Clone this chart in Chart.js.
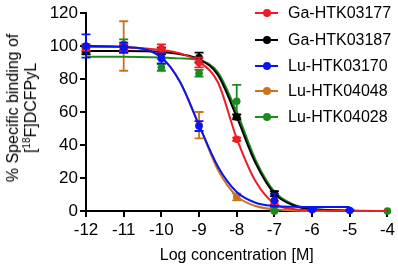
<!DOCTYPE html>
<html><head><meta charset="utf-8">
<script src="https://cdn.jsdelivr.net/npm/chart.js@4.4.1/dist/chart.umd.min.js"></script>
<style>
html,body{margin:0;padding:0;background:#fff;}
#wrap{position:relative;width:398px;height:265px;font-family:"Liberation Sans",Arial,sans-serif;color:#000;overflow:hidden;}
canvas{position:absolute;left:0;top:0;}
#ytitle{position:absolute;left:22px;top:108px;transform:translate(-50%,-50%) rotate(-90deg);text-align:center;font-size:16px;line-height:18px;white-space:nowrap;}
#ytitle sup{font-size:10px;line-height:0;vertical-align:6px;}
#legend{position:absolute;left:255px;top:0;width:143px;height:130px;}
.li{position:absolute;left:0;height:18px;width:143px;font-size:16px;line-height:18px;white-space:nowrap;}
.li .ln{position:absolute;left:0;top:8px;width:23px;height:2px;}
.li .mk{position:absolute;left:7.5px;top:5px;width:8px;height:8px;border-radius:50%;}
.li .tx{position:absolute;left:33px;top:0;}
</style></head>
<body>
<div id="wrap">
<canvas id="c" width="398" height="265"></canvas>
<div id="ytitle">% Specific binding of<br>[<sup>18</sup>F]DCFPyL</div>
<div id="legend"></div>
</div>
<script>
// ---- data ----
const logConc = [-12, -11, -10, -9, -8, -7, -6, -5, -4];
const seriesNames = ['Ga-HTK03177', 'Ga-HTK03187', 'Lu-HTK03170', 'Lu-HTK04048', 'Lu-HTK04028'];
const seriesColors = ['#ee1c24', '#000000', '#0a14f0', '#c8741e', '#1c8a1c'];

// measured means and SD (null = no point)
const redMean   = [99, 99, 98.5, 90, 43.5, 5, null, null, null];
const redErr    = [2, 2, 2.5, 3, 1, 1, 0, 0, 0];
const blackMean = [97, 98, 97, 93, 57, 10.5, null, null, null];
const blackErr  = [2, 2, 2, 3, 1.5, 1.5, 0, 0, 0];
const blueMean  = [100, 99, 92.5, 51.5, null, 6.5, 0.8, 0.3, null];
const blueErr   = [7, 3, 3, 3, 0, 4, 0.5, 0.5, 0];
const orangeMean= [99, 100, 95, 52, 8.5, 0, null, null, null];
const orangeErr = [2, 15, 3, 8, 2, 0.5, 0, 0, 0];
const greenMean = [98, 101, 87, 83.5, 66.5, 0, null, null, 0];
const greenErr  = [2, 3, 2, 2, 10, 0.5, 0, 0, 0];

// fitted curves
const curveX      = [-12, -11, -10, -9.5, -9, -8.5, -8, -7.5, -7, -6.5, -6, -5, -4];
const redCurve    = [99.5, 99.3, 97.6, 95.5, 90.5, 78, 44, 18, 4.5, 1.2, 0.4, 0, 0];
const blackCurve  = [97, 97, 96.4, 95, 92, 82.5, 57, 29, 10.5, 3.5, 1, 0.2, 0];
const blueCurve   = [100, 99.5, 93, 78, 52, 27, 11.5, 5, 3, 2.6, 2.5, 2.5, null];
const orangeCurve = [99.5, 99.3, 93, 78, 52, 25, 9, 3, 1, 0.3, 0, 0, 0];
const greenCurve  = [93.5, 93.5, 93, 92.5, 91.5, 84, 60, 31, 11.7, 4, 1.3, 0.2, 0];

const yTicksMin = 0, yTicksMax = 120, yStep = 20;
const xMin = -12, xMax = -4;

const means = [redMean, blackMean, blueMean, orangeMean, greenMean];
const errs = [redErr, blackErr, blueErr, orangeErr, greenErr];
const curves = [redCurve, blackCurve, blueCurve, orangeCurve, greenCurve];

const FAM = '"Liberation Sans", Arial, sans-serif';

// draw order: first dataset drawn on top
const order = [2, 0, 1, 4, 3];
const datasets = [];
order.forEach(k => {
  const pts = [], e = [];
  logConc.forEach((x, i) => { if (means[k][i] !== null) { pts.push({x, y: means[k][i]}); e.push(errs[k][i]); } });
  datasets.push({
    label: seriesNames[k] + ' pts', data: pts, errors: e,
    borderColor: seriesColors[k], backgroundColor: seriesColors[k],
    pointRadius: 3.8, pointBorderWidth: 0, showLine: false, clip: false
  });
  const cp = [];
  curveX.forEach((x, i) => { if (curves[k][i] !== null) cp.push({x, y: curves[k][i]}); });
  datasets.push({
    label: seriesNames[k], data: cp,
    borderColor: seriesColors[k], backgroundColor: seriesColors[k],
    pointRadius: 0, showLine: true, borderWidth: 2, cubicInterpolationMode: 'monotone', clip: false
  });
});

const errorBars = {
  id: 'errorBars',
  beforeDatasetDraw(chart, args) {
    const ds = chart.data.datasets[args.index];
    if (!ds.errors) return;
    const ctx = chart.ctx, xs = chart.scales.x, ys = chart.scales.y;
    ctx.save();
    ctx.strokeStyle = ds.borderColor; ctx.lineWidth = 1.8;
    ds.data.forEach((p, i) => {
      const e = ds.errors[i];
      if (!e) return;
      const px = xs.getPixelForValue(p.x);
      const t = ys.getPixelForValue(p.y + e), b = ys.getPixelForValue(Math.max(0, p.y - e));
      ctx.beginPath();
      ctx.moveTo(px, t); ctx.lineTo(px, b);
      ctx.moveTo(px - 4.5, t); ctx.lineTo(px + 4.5, t);
      ctx.moveTo(px - 4.5, b); ctx.lineTo(px + 4.5, b);
      ctx.stroke();
    });
    ctx.restore();
  }
};

new Chart(document.getElementById('c'), {
  type: 'scatter',
  data: { datasets },
  plugins: [errorBars],
  options: {
    responsive: false, animation: false, devicePixelRatio: 1,
    layout: { padding: { top: 13, right: 10, left: 0, bottom: 0 } },
    plugins: { legend: { display: false }, tooltip: { enabled: false } },
    scales: {
      x: {
        type: 'linear', min: xMin, max: xMax,
        ticks: { stepSize: 1, color: '#000', font: { size: 17, family: FAM }, padding: 3, maxRotation: 0, autoSkip: false },
        grid: { drawOnChartArea: false, drawTicks: true, tickLength: 6, color: '#000', lineWidth: 2 },
        border: { color: '#000', width: 2 },
        title: { display: true, text: 'Log concentration [M]', color: '#000', font: { size: 16, family: FAM }, padding: { top: 0, bottom: 0 } },
        afterFit(s) { s.height = 54; }
      },
      y: {
        min: yTicksMin, max: yTicksMax,
        ticks: { stepSize: yStep, color: '#000', font: { size: 17, family: FAM }, padding: 2 },
        grid: { drawOnChartArea: false, drawTicks: true, tickLength: 6, color: '#000', lineWidth: 2 },
        border: { color: '#000', width: 2 },
        afterFit(s) { s.width = 86; }
      }
    }
  }
});

// legend
const legendTops = [13, 40, 66, 91, 117];
const lg = document.getElementById('legend');
seriesNames.forEach((n, k) => {
  const d = document.createElement('div');
  d.className = 'li';
  d.style.top = (legendTops[k] - 9) + 'px';
  d.innerHTML = '<span class="ln" style="background:' + seriesColors[k] + '"></span><span class="mk" style="background:' + seriesColors[k] + '"></span><span class="tx"></span>';
  d.querySelector('.tx').textContent = n;
  lg.appendChild(d);
});
</script>
</body></html>
